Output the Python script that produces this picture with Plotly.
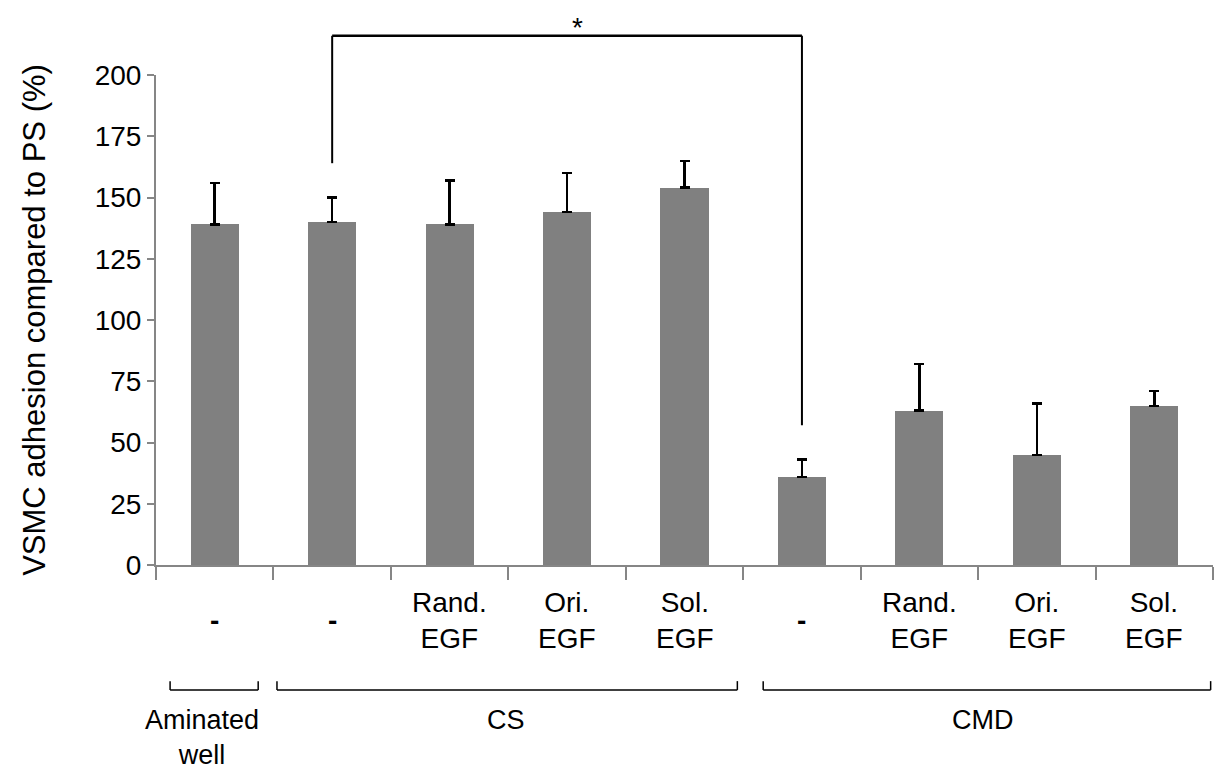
import plotly.graph_objects as go

# ---- data ----
sub_labels = ["-", "-", "Rand.<br>EGF", "Ori.<br>EGF", "Sol.<br>EGF",
              "-", "Rand.<br>EGF", "Ori.<br>EGF", "Sol.<br>EGF"]
values = [139, 140, 139, 144, 154, 36, 63, 45, 65]
errors = [17, 10, 18, 16, 11, 7, 19, 21, 6]

group_names = ["Aminated<br>well", "CS", "CMD"]
group_start = [-0.38, 0.53, 4.67]
group_end = [0.37, 4.45, 8.48]
group_label_x = [-0.11, 2.48, 6.54]

y_ticks = [0, 25, 50, 75, 100, 125, 150, 175, 200]
y_title = "VSMC adhesion compared to PS (%)"

# significance bracket: between category 1 and 5
sig_left, sig_right = 1, 5
sig_left_bottom, sig_right_bottom, sig_top = 164, 57, 216
sig_text = "*"
sig_text_x = 3.09

FONT = "Liberation Sans, Arial, sans-serif"
AX = "#868686"
FS = 28

x = list(range(len(values)))

fig = go.Figure()
fig.add_trace(go.Bar(
    x=x, y=values, width=0.41,
    marker=dict(color="#808080", line=dict(width=0)),
    error_y=dict(type="data", symmetric=False, array=errors,
                 arrayminus=[0] * len(errors),
                 color="black", thickness=2.5, width=5),
    showlegend=False,
))

ymax = 200
shapes = []
annotations = []


def py(v):
    return v / ymax

shapes.append(dict(type="line", xref="x", yref="paper", x0=sig_left, x1=sig_left,
                   y0=py(sig_left_bottom), y1=py(sig_top), line=dict(color="black", width=2)))
shapes.append(dict(type="line", xref="x", yref="paper", x0=sig_right, x1=sig_right,
                   y0=py(sig_right_bottom), y1=py(sig_top), line=dict(color="black", width=2)))
shapes.append(dict(type="line", xref="x", yref="paper", x0=sig_left, x1=sig_right,
                   y0=py(sig_top), y1=py(sig_top), line=dict(color="black", width=2.5)))
annotations.append(dict(x=sig_text_x, y=1.096, xref="x", yref="paper",
                        text=sig_text, showarrow=False, yanchor="middle",
                        font=dict(family=FONT, size=28, color="black")))

# sub labels under each bar
for i, lab in enumerate(sub_labels):
    txt = "<b>-</b>" if lab == "-" else lab
    annotations.append(dict(x=i, y=-0.114, xref="x", yref="paper", text=txt,
                            showarrow=False, yanchor="middle", xanchor="center",
                            font=dict(family=FONT, size=FS, color="black")))

# group brackets
yb = -0.255
ytk = -0.237
for s, e, name, lx in zip(group_start, group_end, group_names, group_label_x):
    shapes.append(dict(type="line", xref="x", yref="paper", x0=s, x1=e, y0=yb, y1=yb,
                       line=dict(color="black", width=1.5)))
    shapes.append(dict(type="line", xref="x", yref="paper", x0=s, x1=s, y0=yb, y1=ytk,
                       line=dict(color="black", width=1.5)))
    shapes.append(dict(type="line", xref="x", yref="paper", x0=e, x1=e, y0=yb, y1=ytk,
                       line=dict(color="black", width=1.5)))
    annotations.append(dict(x=lx, y=-0.282, xref="x", yref="paper", text=name,
                            showarrow=False, yanchor="top", xanchor="center",
                            font=dict(family=FONT, size=27, color="black")))

fig.update_layout(
    width=1206, height=767,
    margin=dict(l=148, r=1, t=67, b=210),
    plot_bgcolor="white", paper_bgcolor="white",
    shapes=shapes, annotations=annotations,
    bargap=0,
    font=dict(family=FONT, color="black"),
)
fig.update_xaxes(
    range=[-0.5, 8.5],
    tickvals=[i - 0.5 for i in range(len(values) + 1)],
    ticktext=[""] * (len(values) + 1),
    ticks="outside", ticklen=13, tickcolor=AX, tickwidth=2,
    showline=True, linecolor=AX, linewidth=2,
    showgrid=False, zeroline=False,
)
fig.update_yaxes(
    range=[0, 200], tickvals=y_ticks,
    ticks="outside", ticklen=7, tickcolor=AX, tickwidth=2,
    showline=True, linecolor=AX, linewidth=2,
    showgrid=False, zeroline=False,
    tickfont=dict(family=FONT, size=FS, color="black"),
    title=dict(text=y_title, font=dict(family=FONT, size=31, color="black"), standoff=40),
)

fig.write_html("out.html")
